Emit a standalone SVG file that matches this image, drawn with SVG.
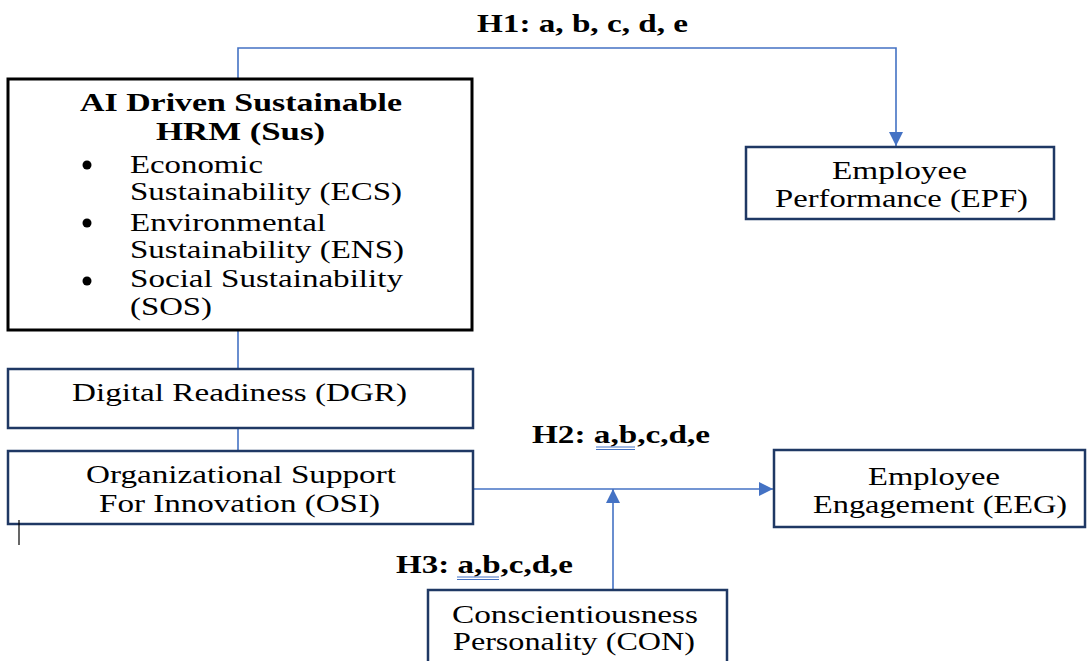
<svg xmlns="http://www.w3.org/2000/svg" width="1087" height="661" viewBox="0 0 1087 661">
<style>
.t{font-family:"Liberation Serif","Times New Roman",serif;font-size:25px;fill:#000}
.b{font-weight:bold}
.h{font-size:26px}
.box{fill:#fff;stroke:#1f3864;stroke-width:2.5}
.main{fill:#fff;stroke:#000;stroke-width:3}
.c{fill:none;stroke:#4472c4;stroke-width:1.6}
.ul{stroke:#4472c4;stroke-width:1}
</style>
<defs>
<marker id="ah" viewBox="0 0 14 14" refX="14" refY="7" markerWidth="14" markerHeight="14" markerUnits="userSpaceOnUse" orient="auto">
<path d="M0,0 L14,7 L0,14 z" fill="#4472c4"/>
</marker>
</defs>
<rect width="1087" height="661" fill="#fff"/>
<g id="connectors">
<path class="c" d="M238,79 V48 H896 V146" marker-end="url(#ah)"/>
<path class="c" d="M238,330 V369"/>
<path class="c" d="M238,428 V451"/>
<path class="c" d="M473,489 H773" marker-end="url(#ah)"/>
<path class="c" d="M613,590 V489" marker-end="url(#ah)"/>
</g>
<g id="labels">
<text class="t b" x="477" y="32" textLength="211" lengthAdjust="spacingAndGlyphs">H1: a, b, c, d, e</text>
<text class="t b" x="532" y="443" textLength="178" lengthAdjust="spacingAndGlyphs">H2: a,b,c,d,e</text>
<line class="ul" x1="596" y1="447" x2="635" y2="447"/>
<line class="ul" x1="596" y1="449.5" x2="635" y2="449.5"/>
<text class="t b" x="396" y="573" textLength="177" lengthAdjust="spacingAndGlyphs">H3: a,b,c,d,e</text>
<line class="ul" x1="457" y1="577" x2="499" y2="577"/>
<line class="ul" x1="457" y1="579.5" x2="499" y2="579.5"/>
</g>
<g id="sus">
<rect class="main" x="8" y="79" width="464" height="251"/>
<text class="t b h" x="80" y="111" textLength="322" lengthAdjust="spacingAndGlyphs">AI Driven Sustainable</text>
<text class="t b h" x="156" y="140" textLength="169" lengthAdjust="spacingAndGlyphs">HRM (Sus)</text>
<circle cx="87" cy="165" r="4.5" fill="#000"/>
<circle cx="87" cy="223" r="4.5" fill="#000"/>
<circle cx="87" cy="281" r="4.5" fill="#000"/>
<text class="t" x="130" y="173" textLength="133" lengthAdjust="spacingAndGlyphs">Economic</text>
<text class="t" x="130" y="200" textLength="272" lengthAdjust="spacingAndGlyphs">Sustainability (ECS)</text>
<text class="t" x="130" y="231" textLength="196" lengthAdjust="spacingAndGlyphs">Environmental</text>
<text class="t" x="130" y="258" textLength="274" lengthAdjust="spacingAndGlyphs">Sustainability (ENS)</text>
<text class="t" x="130" y="287" textLength="273" lengthAdjust="spacingAndGlyphs">Social Sustainability</text>
<text class="t" x="130" y="315" textLength="82" lengthAdjust="spacingAndGlyphs">(SOS)</text>
</g>
<g id="dgr">
<rect class="box" x="8" y="369" width="465" height="59"/>
<text class="t" x="72" y="401" textLength="335" lengthAdjust="spacingAndGlyphs">Digital Readiness (DGR)</text>
</g>
<g id="osi">
<rect class="box" x="8" y="451" width="465" height="73"/>
<text class="t" x="86" y="483" textLength="310" lengthAdjust="spacingAndGlyphs">Organizational Support</text>
<text class="t" x="99" y="512" textLength="281" lengthAdjust="spacingAndGlyphs">For Innovation (OSI)</text>
</g>
<g id="epf">
<rect class="box" x="746" y="147" width="308" height="72"/>
<text class="t" x="832" y="179" textLength="135" lengthAdjust="spacingAndGlyphs">Employee</text>
<text class="t" x="775" y="207" textLength="253" lengthAdjust="spacingAndGlyphs">Performance (EPF)</text>
</g>
<g id="eeg">
<rect class="box" x="774" y="450" width="311" height="77"/>
<text class="t" x="868" y="485" textLength="132" lengthAdjust="spacingAndGlyphs">Employee</text>
<text class="t" x="813" y="513" textLength="254" lengthAdjust="spacingAndGlyphs">Engagement (EEG)</text>
</g>
<g id="con">
<rect class="box" x="428" y="590" width="299" height="80"/>
<text class="t" x="452" y="623" textLength="246" lengthAdjust="spacingAndGlyphs">Conscientiousness</text>
<text class="t" x="453" y="650" textLength="242" lengthAdjust="spacingAndGlyphs">Personality (CON)</text>
</g>
<line x1="19" y1="520" x2="19" y2="545" stroke="#000" stroke-width="1.2"/>
</svg>
